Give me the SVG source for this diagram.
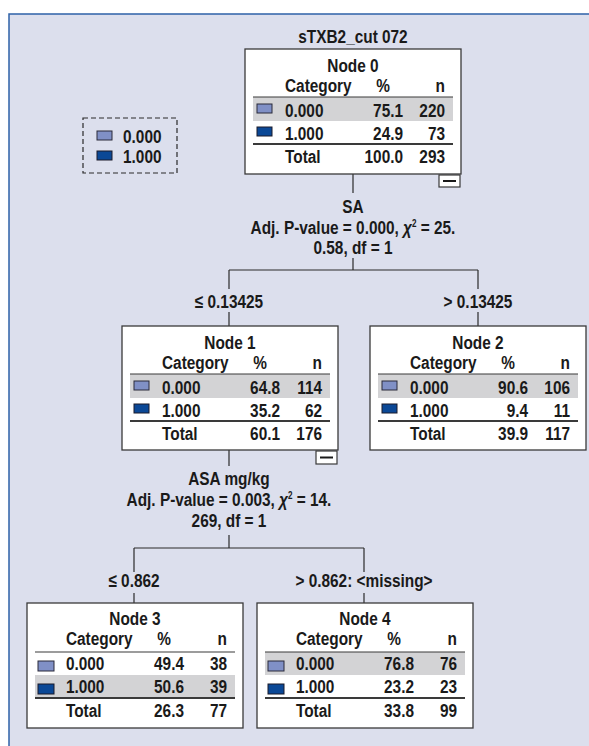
<svg xmlns="http://www.w3.org/2000/svg" width="589" height="746" viewBox="0 0 589 746">
<style>
text{font-family:"Liberation Sans",Arial,sans-serif;font-size:19px;font-weight:bold;fill:#1a1a1a}
.m{text-anchor:middle}.e{text-anchor:end}
.box{fill:#fff;stroke:#3a3a3a;stroke-width:1.3}
.band{fill:#d3d3d5}
.hl{stroke:#3a3a3a;stroke-width:1.2}
.hl2{stroke:#3a3a3a;stroke-width:1.8}
.c0{fill:#8090c6;stroke:#2a2a3a;stroke-width:1}
.c1{fill:#0b4896;stroke:#1a1a2a;stroke-width:1}
.conn line{stroke:#2a2a2a;stroke-width:1.2}
.mini{fill:#fff;stroke:#3a3a3a;stroke-width:1.2}
.sup{font-size:10px}
</style>
<rect x="0" y="0" width="589" height="746" fill="#fff"/>
<rect x="9" y="14" width="590" height="740" fill="#dcdfed" stroke="#2e62a8" stroke-width="1.5"/>
<g id="legend">
<rect x="83" y="118" width="94" height="55" fill="none" stroke="#2a2a2a" stroke-width="1.2" stroke-dasharray="5,3"/>
<rect class="c0" x="97" y="131" width="15" height="9"/>
<rect class="c1" x="97" y="151" width="15" height="9"/>
<g transform="scale(.81 1)">
<text x="151.9" y="143">0.000</text>
<text x="151.9" y="163">1.000</text>
</g>
</g>
<g class="conn">
<line x1="353" y1="174" x2="353" y2="193"/>
<line x1="353" y1="258" x2="353" y2="270"/>
<line x1="229" y1="270" x2="478" y2="270"/>
<line x1="229" y1="270" x2="229" y2="289"/>
<line x1="478" y1="270" x2="478" y2="289"/>
<line x1="229" y1="312" x2="229" y2="326"/>
<line x1="478" y1="312" x2="478" y2="326"/>
<line x1="229" y1="450" x2="229" y2="466"/>
<line x1="229" y1="535" x2="229" y2="548"/>
<line x1="134" y1="548" x2="364" y2="548"/>
<line x1="134" y1="548" x2="134" y2="572"/>
<line x1="364" y1="548" x2="364" y2="572"/>
<line x1="134" y1="593" x2="134" y2="603"/>
<line x1="364" y1="593" x2="364" y2="603"/>
</g>
<g id="labels" transform="scale(.81 1)">
<text class="m" x="435.8" y="43">sTXB2_cut 072</text>
<text class="m" x="435.8" y="213">SA</text>
<text class="m" x="435.8" y="234">Adj. P-value = 0.000, <tspan font-style="italic">χ</tspan><tspan class="sup" dy="-7">2</tspan><tspan dy="7"> = 25.</tspan></text>
<text class="m" x="435.8" y="254">0.58, df = 1</text>
<text class="m" x="282.7" y="308">≤ 0.13425</text>
<text class="m" x="590.1" y="308">&gt; 0.13425</text>
<text class="m" x="282.7" y="485">ASA mg/kg</text>
<text class="m" x="282.7" y="506">Adj. P-value = 0.003, <tspan font-style="italic">χ</tspan><tspan class="sup" dy="-7">2</tspan><tspan dy="7"> = 14.</tspan></text>
<text class="m" x="282.7" y="527">269, df = 1</text>
<text class="m" x="165.4" y="587">≤ 0.862</text>
<text class="m" x="449.4" y="587">&gt; 0.862: &lt;missing&gt;</text>
</g>
<g id="node0" transform="translate(245,49)">
<rect class="box" x="0" y="0" width="216" height="125"/>
<rect class="band" x="8" y="48" width="200" height="24"/>
<line class="hl" x1="8" y1="48" x2="208" y2="48"/>
<rect class="c0" x="12" y="55" width="15" height="9"/>
<rect class="c1" x="12" y="78" width="15" height="9"/>
<line class="hl2" x1="8" y1="95" x2="208" y2="95"/>
<rect class="mini" x="194" y="126" width="21" height="12"/><line x1="198" y1="132" x2="211" y2="132" stroke="#1a1a1a" stroke-width="2"/>
<g transform="scale(.81 1)">
<text class="m" x="133.3" y="23">Node 0</text>
<text x="49.4" y="43">Category</text><text class="m" x="170.4" y="43">%</text><text class="e" x="246.9" y="43">n</text>
<text x="49.4" y="68">0.000</text><text class="e" x="195.1" y="68">75.1</text><text class="e" x="246.9" y="68">220</text>
<text x="49.4" y="91">1.000</text><text class="e" x="195.1" y="91">24.9</text><text class="e" x="246.9" y="91">73</text>
<text x="49.4" y="114">Total</text><text class="e" x="195.1" y="114">100.0</text><text class="e" x="246.9" y="114">293</text>
</g>
</g>
<g id="node1" transform="translate(122,326)">
<rect class="box" x="0" y="0" width="216" height="124"/>
<rect class="band" x="8" y="48" width="200" height="24"/>
<line class="hl" x1="8" y1="48" x2="208" y2="48"/>
<rect class="c0" x="12" y="55" width="15" height="9"/>
<rect class="c1" x="12" y="78" width="15" height="9"/>
<line class="hl2" x1="8" y1="95" x2="208" y2="95"/>
<rect class="mini" x="194" y="125" width="21" height="13"/><line x1="198" y1="131.5" x2="211" y2="131.5" stroke="#1a1a1a" stroke-width="2"/>
<g transform="scale(.81 1)">
<text class="m" x="133.3" y="23">Node 1</text>
<text x="49.4" y="43">Category</text><text class="m" x="170.4" y="43">%</text><text class="e" x="246.9" y="43">n</text>
<text x="49.4" y="68">0.000</text><text class="e" x="195.1" y="68">64.8</text><text class="e" x="246.9" y="68">114</text>
<text x="49.4" y="91">1.000</text><text class="e" x="195.1" y="91">35.2</text><text class="e" x="246.9" y="91">62</text>
<text x="49.4" y="114">Total</text><text class="e" x="195.1" y="114">60.1</text><text class="e" x="246.9" y="114">176</text>
</g>
</g>
<g id="node2" transform="translate(370,326)">
<rect class="box" x="0" y="0" width="216" height="124"/>
<rect class="band" x="8" y="48" width="200" height="24"/>
<line class="hl" x1="8" y1="48" x2="208" y2="48"/>
<rect class="c0" x="12" y="55" width="15" height="9"/>
<rect class="c1" x="12" y="78" width="15" height="9"/>
<line class="hl2" x1="8" y1="95" x2="208" y2="95"/>
<g transform="scale(.81 1)">
<text class="m" x="133.3" y="23">Node 2</text>
<text x="49.4" y="43">Category</text><text class="m" x="170.4" y="43">%</text><text class="e" x="246.9" y="43">n</text>
<text x="49.4" y="68">0.000</text><text class="e" x="195.1" y="68">90.6</text><text class="e" x="246.9" y="68">106</text>
<text x="49.4" y="91">1.000</text><text class="e" x="195.1" y="91">9.4</text><text class="e" x="246.9" y="91">11</text>
<text x="49.4" y="114">Total</text><text class="e" x="195.1" y="114">39.9</text><text class="e" x="246.9" y="114">117</text>
</g>
</g>
<g id="node3" transform="translate(27,603)">
<rect class="box" x="0" y="0" width="216" height="125"/>
<rect class="band" x="8" y="72" width="200" height="23"/>
<line class="hl" x1="8" y1="49" x2="208" y2="49"/>
<rect class="c0" x="11" y="58" width="16" height="10"/>
<rect class="c1" x="11" y="81" width="16" height="10"/>
<line class="hl2" x1="8" y1="95" x2="208" y2="95"/>
<g transform="scale(.81 1)">
<text class="m" x="133.3" y="22">Node 3</text>
<text x="48.1" y="42">Category</text><text class="m" x="169.1" y="42">%</text><text class="e" x="246.9" y="42">n</text>
<text x="48.1" y="67">0.000</text><text class="e" x="193.8" y="67">49.4</text><text class="e" x="246.9" y="67">38</text>
<text x="48.1" y="90">1.000</text><text class="e" x="193.8" y="90">50.6</text><text class="e" x="246.9" y="90">39</text>
<text x="48.1" y="114">Total</text><text class="e" x="193.8" y="114">26.3</text><text class="e" x="246.9" y="114">77</text>
</g>
</g>
<g id="node4" transform="translate(257,603)">
<rect class="box" x="0" y="0" width="216" height="125"/>
<rect class="band" x="8" y="49" width="200" height="23"/>
<line class="hl" x1="8" y1="49" x2="208" y2="49"/>
<rect class="c0" x="11" y="58" width="16" height="10"/>
<rect class="c1" x="11" y="81" width="16" height="10"/>
<line class="hl2" x1="8" y1="95" x2="208" y2="95"/>
<g transform="scale(.81 1)">
<text class="m" x="133.3" y="22">Node 4</text>
<text x="48.1" y="42">Category</text><text class="m" x="169.1" y="42">%</text><text class="e" x="246.9" y="42">n</text>
<text x="48.1" y="67">0.000</text><text class="e" x="193.8" y="67">76.8</text><text class="e" x="246.9" y="67">76</text>
<text x="48.1" y="90">1.000</text><text class="e" x="193.8" y="90">23.2</text><text class="e" x="246.9" y="90">23</text>
<text x="48.1" y="114">Total</text><text class="e" x="193.8" y="114">33.8</text><text class="e" x="246.9" y="114">99</text>
</g>
</g>
</svg>
